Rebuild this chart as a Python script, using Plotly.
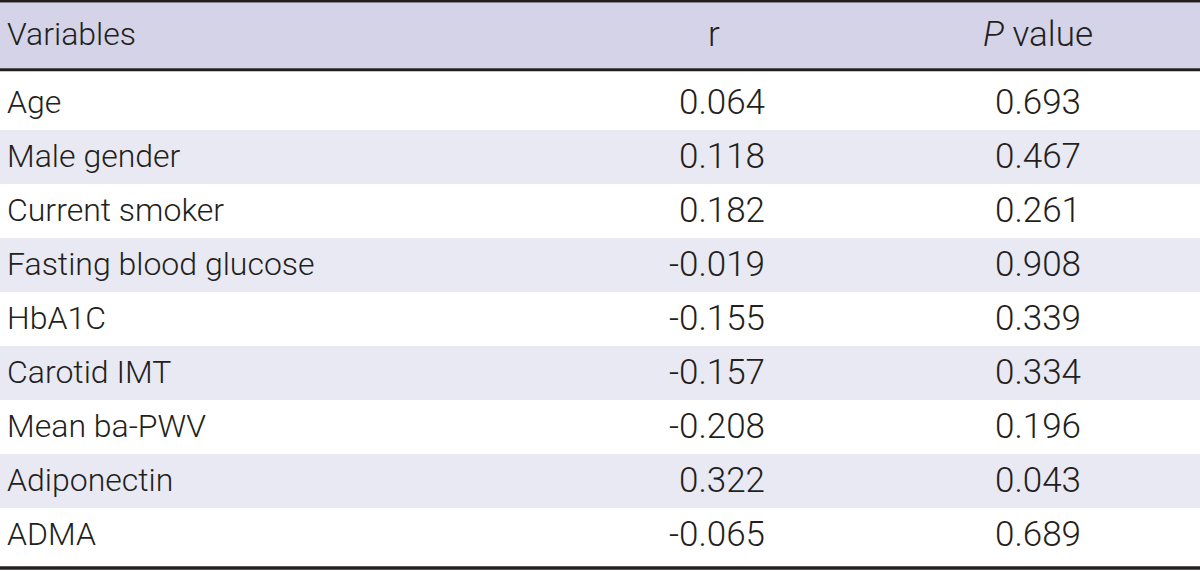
import plotly.graph_objects as go

variables = ["Age", "Male gender", "Current smoker", "Fasting blood glucose", "HbA1C",
             "Carotid IMT", "Mean ba-PWV", "Adiponectin", "ADMA"]
r_values = ["0.064", "0.118", "0.182", "-0.019", "-0.155", "-0.157", "-0.208", "0.322", "-0.065"]
p_values = ["0.693", "0.467", "0.261", "0.908", "0.339", "0.334", "0.196", "0.043", "0.689"]
header_labels = ["Variables", "r", "<i>P</i> value"]

# ---- style / layout constants (pixels) ----
W, H = 1200, 571
TEXT = "#231f20"
HEAD_BG = "#d4d3e8"
STRIPE = "#e9e9f4"
FONT = "Roboto, Liberation Sans, sans-serif"
FS_LABEL = 32
FS_NUM = 35
WEIGHT = 300
HEAD_Y0, HEAD_Y1 = 2.4, 68.3
ROW_Y0, ROW_H = 76, 54
TEXT_DY = 2
X_VAR, X_R, X_P = 7, 765, 1038
X_R_HEAD = 714

n = len(variables)
row_centers = [ROW_Y0 + ROW_H * (i + 0.5) for i in range(n)]
text_y = [c + TEXT_DY for c in row_centers]
head_center = (HEAD_Y0 + HEAD_Y1) / 2
row_colors = ["white" if i % 2 == 0 else STRIPE for i in range(n)]

fig = go.Figure()

# header band
fig.add_trace(go.Bar(orientation="h", y=[head_center], x=[W], base=0,
                     width=HEAD_Y1 - HEAD_Y0, marker=dict(color=HEAD_BG, line_width=0),
                     hoverinfo="skip", showlegend=False))
# row bands
fig.add_trace(go.Bar(orientation="h", y=row_centers, x=[W] * n, base=0,
                     width=ROW_H, marker=dict(color=row_colors, line_width=0),
                     hoverinfo="skip", showlegend=False))

font_label = dict(family=FONT, size=FS_LABEL, color=TEXT, weight=WEIGHT)
font_num = dict(family=FONT, size=FS_NUM, color=TEXT, weight=WEIGHT)
# header texts
fig.add_trace(go.Scatter(x=[X_VAR], y=[head_center + TEXT_DY], mode="text", text=[header_labels[0]],
                         textposition="middle right", textfont=font_label, hoverinfo="skip", showlegend=False))
fig.add_trace(go.Scatter(x=[X_R_HEAD, X_P], y=[head_center + TEXT_DY] * 2, mode="text",
                         text=header_labels[1:], textposition="middle center", textfont=font_num,
                         hoverinfo="skip", showlegend=False))
# body texts
fig.add_trace(go.Scatter(x=[X_VAR] * n, y=text_y, mode="text", text=variables,
                         textposition="middle right", textfont=font_label, hoverinfo="skip", showlegend=False))
fig.add_trace(go.Scatter(x=[X_R] * n, y=text_y, mode="text", text=r_values,
                         textposition="middle left", textfont=font_num, hoverinfo="skip", showlegend=False))
fig.add_trace(go.Scatter(x=[X_P] * n, y=text_y, mode="text", text=p_values,
                         textposition="middle center", textfont=font_num, hoverinfo="skip", showlegend=False))

# rules
bottom_rule = ROW_Y0 + ROW_H * n + 6
for yp, w in [(1.2, 2.5), (HEAD_Y1 + 1.5, 3), (bottom_rule, 3.5)]:
    fig.add_shape(type="line", xref="x", yref="y", x0=0, x1=W, y0=yp, y1=yp,
                  line=dict(color=TEXT, width=w), layer="above")

fig.update_layout(
    width=W, height=H, margin=dict(l=0, r=0, t=0, b=0),
    paper_bgcolor="white", plot_bgcolor="white", barmode="overlay",
    xaxis=dict(range=[0, W], visible=False, fixedrange=True),
    yaxis=dict(range=[H, 0], visible=False, fixedrange=True),
)
fig.write_html("out.html", config={"displayModeBar": False},
               post_script="document.body.style.margin='0';")
